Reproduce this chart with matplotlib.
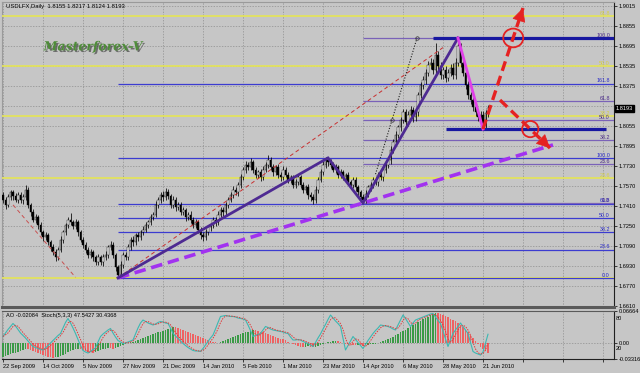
import numpy as np
import pandas as pd
import matplotlib.pyplot as plt
from matplotlib.patches import Ellipse
import matplotlib.patheffects as pe

plt.rcParams['font.family'] = ['Liberation Sans', 'DejaVu Sans']

# USDLFX daily, 22 Sep 2009 .. 23 Jun 2010 (open of a bar = previous close)
open0 = 1.750
closes = [
    1.746, 1.742, 1.748, 1.752, 1.749, 1.746, 1.750, 1.746, 1.748, 1.754,
    1.742, 1.736, 1.730, 1.732, 1.726, 1.720, 1.716, 1.718, 1.712, 1.708,
    1.704, 1.700, 1.706, 1.714, 1.720, 1.726, 1.730, 1.728, 1.725, 1.728,
    1.720, 1.714, 1.710, 1.706, 1.702, 1.704, 1.700, 1.696, 1.700, 1.696,
    1.700, 1.702, 1.708, 1.710, 1.702, 1.692, 1.686, 1.694, 1.702, 1.700,
    1.708, 1.714, 1.712, 1.718, 1.716, 1.720, 1.722, 1.726, 1.728, 1.732,
    1.734, 1.742, 1.746, 1.750, 1.748, 1.752, 1.749, 1.742, 1.746, 1.740,
    1.742, 1.736, 1.738, 1.732, 1.734, 1.730, 1.726, 1.728, 1.722, 1.718,
    1.716, 1.720, 1.724, 1.726, 1.730, 1.728, 1.734, 1.738, 1.736, 1.742,
    1.746, 1.750, 1.754, 1.752, 1.758, 1.764, 1.770, 1.774, 1.772, 1.776,
    1.770, 1.766, 1.768, 1.764, 1.770, 1.774, 1.778, 1.772, 1.768, 1.772,
    1.766, 1.764, 1.770, 1.766, 1.762, 1.764, 1.758, 1.760, 1.764, 1.758,
    1.754, 1.756, 1.750, 1.748, 1.746, 1.754, 1.762, 1.768, 1.774, 1.778,
    1.776, 1.774, 1.770, 1.772, 1.766, 1.768, 1.764, 1.766, 1.760, 1.758,
    1.762, 1.756, 1.752, 1.748, 1.746, 1.751, 1.756, 1.758, 1.762, 1.760,
    1.766, 1.764, 1.770, 1.774, 1.778, 1.786, 1.792, 1.798, 1.804, 1.810,
    1.816, 1.808, 1.814, 1.818, 1.812, 1.816, 1.830, 1.838, 1.842, 1.848,
    1.854, 1.856, 1.850, 1.862, 1.853, 1.846, 1.850, 1.844, 1.848, 1.852,
    1.846, 1.856, 1.869, 1.856, 1.848, 1.838, 1.830, 1.826, 1.820, 1.816,
    1.812, 1.814, 1.806, 1.8155, 1.8193,
]
# wick sizes in pips above / below the candle body
hi_wick = [
    20, 25, 30, 18, 22, 28, 20, 24, 30, 40,
    20, 15, 25, 30, 18, 22, 20, 26, 18, 22,
    25, 30, 20, 28, 22, 18, 25, 56, 20, 24,
    18, 22, 26, 20, 25, 30, 22, 18, 26, 20,
    24, 30, 22, 28, 20, 16, 22, 30, 25, 20,
    26, 22, 30, 18, 24, 20, 28, 22, 18, 25,
    22, 30, 26, 20, 35, 36, 24, 20, 28, 22,
    25, 20, 26, 18, 22, 28, 20, 24, 18, 22,
    20, 26, 22, 18, 25, 20, 28, 22, 24, 20,
    26, 22, 30, 20, 24, 28, 22, 30, 26, 35,
    20, 25, 22, 28, 30, 26, 40, 22, 25, 20,
    24, 22, 28, 20, 25, 22, 18, 26, 30, 20,
    22, 18, 25, 20, 24, 28, 22, 26, 30, 24,
    16, 25, 22, 28, 20, 26, 22, 18, 24, 20,
    25, 20, 22, 18, 24, 28, 22, 26, 20, 25,
    22, 26, 24, 30, 22, 28, 25, 30, 22, 26,
    30, 25, 28, 35, 24, 30, 28, 26, 30, 32,
    35, 40, 28, 96, 30, 35, 28, 32, 26, 30,
    35, 40, 67, 30, 28, 25, 30, 22, 26, 20,
    25, 28, 30, 22, 24,
]
lo_wick = [
    25, 30, 20, 22, 28, 20, 25, 22, 30, 20,
    25, 28, 20, 24, 30, 22, 26, 20, 24, 28,
    22, 30, 25, 20, 24, 22, 28, 20, 25, 22,
    26, 20, 24, 28, 22, 25, 30, 20, 24, 22,
    28, 20, 24, 22, 26, 30, 25, 22, 28, 20,
    24, 22, 26, 20, 28, 22, 24, 20, 26, 22,
    24, 20, 28, 22, 26, 24, 20, 28, 22, 26,
    20, 24, 22, 28, 20, 26, 24, 22, 28, 30,
    32, 24, 20, 26, 22, 28, 24, 20, 26, 22,
    24, 20, 26, 22, 28, 24, 20, 26, 22, 24,
    28, 22, 26, 30, 24, 20, 26, 22, 28, 24,
    22, 28, 24, 20, 26, 22, 28, 24, 20, 26,
    28, 24, 30, 26, 35, 22, 26, 20, 24, 22,
    26, 24, 20, 28, 22, 26, 24, 28, 22, 30,
    24, 28, 26, 30, 25, 28, 24, 30, 26, 22,
    28, 24, 26, 22, 28, 30, 26, 24, 28, 30,
    26, 32, 28, 30, 34, 28, 30, 26, 32, 28,
    30, 28, 32, 30, 35, 30, 28, 32, 30, 28,
    30, 32, 28, 35, 30, 32, 35, 30, 28, 32,
    30, 32, 33, 28, 31,
]
# Awesome Oscillator
ao = [
    -0.028,
    -0.026, -0.024, -0.023, -0.021, -0.020, -0.018, -0.016, -0.014, -0.012,
    -0.013, -0.015, -0.017, -0.019, -0.021, -0.023, -0.025, -0.027, -0.029, -0.030, -0.031,
    -0.030, -0.028, -0.026, -0.024, -0.022, -0.019, -0.017, -0.015, -0.013, -0.012,
    -0.013, -0.015, -0.017, -0.018, -0.019, -0.020, -0.019,
    -0.017, -0.015, -0.013, -0.012, -0.010, -0.011, -0.012, -0.010, -0.008,
    -0.006, -0.004, -0.002, 0.000, 0.002, 0.003, 0.004, 0.006, 0.008, 0.010,
    0.012, 0.014, 0.016, 0.018, 0.020, 0.022, 0.024, 0.026, 0.028, 0.030, 0.032, 0.034,
    0.033, 0.031, 0.029, 0.027, 0.025, 0.023, 0.021, 0.019, 0.017, 0.015, 0.013, 0.011,
    0.009, 0.007, 0.005, 0.003,
    0.002, 0.001, 0.002, 0.004,
    0.006, 0.008, 0.010, 0.012, 0.014, 0.016, 0.018, 0.020, 0.022, 0.024, 0.026, 0.028,
    0.027, 0.026, 0.024, 0.022, 0.020, 0.019, 0.017, 0.015, 0.013, 0.011, 0.009, 0.008, 0.006,
    0.003, 0.000, -0.003, -0.005, -0.007, -0.008, -0.009,
    -0.008, -0.007, -0.008, -0.009, -0.008, -0.006, -0.004, -0.002, 0.000,
    0.002, 0.003, 0.004, 0.005, 0.004, 0.003,
    0.001, -0.001, -0.002, -0.003, -0.004, -0.005, -0.004, -0.005, -0.006, -0.005,
    -0.004, -0.003, -0.002, -0.001, 0.001,
    0.002, 0.004, 0.006, 0.008, 0.010, 0.013, 0.016, 0.019, 0.022, 0.025, 0.028, 0.031,
    0.034, 0.037, 0.040, 0.043, 0.046, 0.049, 0.052, 0.055, 0.058, 0.061, 0.063,
    0.062, 0.060, 0.058, 0.056, 0.054, 0.051, 0.048, 0.045, 0.041, 0.037, 0.033,
    0.028, 0.022, 0.016, 0.010, 0.004, -0.002, -0.008, -0.013, -0.017, -0.02084,
]
# Stochastic(5,3,3) main line
stoch = [
    43, 50, 57, 63, 69, 64, 57, 50, 45, 40, 34, 28, 23, 21, 19, 17, 16, 20, 25, 30,
    35, 40, 45, 49, 60, 71, 79, 70, 60, 49, 37, 25, 15, 12, 10, 13, 17, 20, 32, 43,
    48, 52, 56, 59, 50, 42, 35, 32, 29, 30, 32, 34, 36, 48, 60, 70, 76, 73, 70, 68,
    66, 68, 71, 73, 72, 70, 69, 60, 49, 44, 39, 34, 29, 25, 21, 18, 15, 14, 14, 13,
    19, 26, 33, 40, 46, 58, 71, 83, 84, 85, 84, 83, 83, 82, 80, 79, 78, 76, 66, 55,
    43, 45, 47, 49, 56, 63, 61, 58, 56, 55, 54, 53, 52, 50, 49, 42, 36, 36, 37, 36,
    33, 31, 29, 26, 23, 31, 40, 48, 58, 67, 77, 86, 80, 74, 69, 63, 40, 16, 25, 34,
    43, 37, 31, 25, 19, 27, 35, 42, 49, 55, 60, 66, 65, 64, 63, 61, 58, 56, 66, 76,
    86, 79, 71, 63, 70, 76, 78, 80, 82, 84, 86, 88, 89, 82, 75, 69, 54, 38, 23, 36,
    49, 56, 63, 70, 63, 56, 49, 31, 13, 10, 8, 6, 12, 30, 47.5427,
]
stoch_signal_last = 30.4368

date_labels = ['22 Sep 2009', '14 Oct 2009', '5 Nov 2009', '27 Nov 2009', '21 Dec 2009',
               '14 Jan 2010', '5 Feb 2010', '1 Mar 2010', '23 Mar 2010', '14 Apr 2010',
               '6 May 2010', '28 May 2010', '21 Jun 2010']
price_ticks = [1.9015, 1.8855, 1.8695, 1.8535, 1.8375, 1.8215, 1.8055, 1.7895,
               1.7730, 1.7570, 1.7410, 1.7250, 1.7090, 1.6930, 1.6770, 1.6610]

closes = np.array(closes)
opens = np.r_[open0, closes[:-1]]
highs = np.maximum(opens, closes) + np.array(hi_wick) / 1e4
lows = np.minimum(opens, closes) - np.array(lo_wick) / 1e4
ao = np.array(ao)
stoch = np.array(stoch, dtype=float)
signal = pd.Series(stoch).rolling(3, min_periods=1).mean().values
idx = np.arange(len(closes))

# fibonacci tools: (start bar, 0% price, 100% price, levels, line colour, label colour, width)
fibs = [
    (-1, 1.6835, 2.0228, [0, 23.6, 38.2, 50.0, 61.8], '#e2e25e', '#d6d040', 1.3),
    (46, lows[46], highs[130], [0, 23.6, 38.2, 50.0, 61.8, 100.0, 161.8], '#3c3cd0', '#2828c8', 0.9),
    (144, lows[144], highs[182], [0, 23.6, 38.2, 50.0, 61.8, 100.0], '#7a62b8', '#4a2a8a', 0.9),
]
zig_bars = [46, 130, 144, 182]
zig_prices = [lows[46], highs[130], lows[144], highs[182]]
red_line = ([46, 176], [lows[46], 1.868])
left_red = ([4, 29], [1.742, 1.684])
dotted = ([149, 155.6, 165.6], [1.7666, 1.810, 1.8756])
arrow_up = ([192, 208], [lows[192], 1.8997])
arrow_down = ([198.8, 218.8], [1.826, 1.7875])
rings = [(204.1, highs[182], 8.0, 0.0150), (210.9, lows[192], 6.5, 0.0130)]

bg = '#c6c6c6'
grid_c = '#8e8e8e'
red = '#e52222'
fs = 4.1

fig = plt.figure(figsize=(6.4, 3.73), dpi=100, facecolor=bg)
ax = fig.add_axes([2 / 640, 1 - 307 / 373, 612 / 640, 305 / 373], facecolor=bg)
ax2 = fig.add_axes([2 / 640, 1 - 359 / 373, 612 / 640, 48 / 373], facecolor=bg, sharex=ax)
ax3 = ax2.twinx()

xticks = np.arange(0, 245, 16)
ax.set_xlim(-0.4, 244.4)
ax.set_ylim(1.6602, 1.9045)
ax.set_xticks(xticks)
ax.set_yticks(price_ticks)
# the current-price box covers the tick label next to it
ax.set_yticklabels(['' if abs(p - closes[-1]) < 0.004 else '%.4f' % p for p in price_ticks],
                   fontsize=fs)
ax.yaxis.tick_right()
ax.tick_params(axis='y', length=2, width=0.5, pad=1.5)
ax.tick_params(axis='x', length=0, labelbottom=False)
ax.grid(True, color=grid_c, ls=(0, (2, 2)), lw=0.5)
ax.set_axisbelow(True)
for s in ['left', 'top']:
    ax.spines[s].set_color('#9a9a9a')
ax.spines['right'].set_color('#202020')
ax.spines['bottom'].set_color('#5a5a5a')
ax.spines['bottom'].set_linewidth(2.2)

# fib lines
for start, p0, p1, levels, lc, tc, lw in fibs:
    for r in levels:
        p = p0 + (p1 - p0) * r / 100
        ax.hlines(p, max(start, -0.4), 244.4, color=lc, lw=lw, zorder=3)
        if not (start < 0 and r == 0):
            ax.text(242.8, p + 0.0003, '%.1f' % r, ha='right', va='bottom',
                    fontsize=3.9, color=tc, zorder=6)

# candles
up = closes >= opens
ax.vlines(idx, lows, highs, color='black', lw=0.55, zorder=4)
body_h = np.maximum(np.abs(closes - opens), 0.0004)
ax.bar(idx, body_h, bottom=np.minimum(opens, closes), width=0.6,
       color=np.where(up, '#f2f2f2', '#000000'), edgecolor='black', lw=0.3, zorder=4)

# levels from the peak and the last low
ax.hlines(highs[182], 172, 244.4, color='#1818a0', lw=2.3, zorder=5)
ax.hlines(lows[192], 177, 241.2, color='#1818a0', lw=2.3, zorder=5)

# trend lines
ax.plot(red_line[0], red_line[1], color='#c83030', lw=0.7, ls=(0, (4, 3)), zorder=5)
ax.plot(left_red[0], left_red[1], color='#c85050', lw=0.7, ls=(0, (4, 3)), zorder=5)
ax.plot(dotted[0], dotted[1], color='#202020', lw=0.8, ls=(0, (1, 1.5)), zorder=5)
ax.plot(dotted[0][1:], dotted[1][1:], 'o', ms=2.5, mfc='none', mec='#303030', mew=0.5, zorder=6)
slope = (lows[144] - lows[46]) / (144 - 46)
ax.plot([46, 220], [lows[46], lows[46] + slope * (220 - 46)], color='#a232f0',
        lw=2.6, ls=(0, (3.2, 1.6)), zorder=6, solid_capstyle='butt')
ax.plot(zig_bars, zig_prices, color='#4e2a92', lw=2.0, zorder=6, solid_joinstyle='miter')
ax.plot([182, 192], [highs[182], lows[192]], color='#e040e8', lw=2.0, zorder=6)

for xs, ys in [arrow_up, arrow_down]:
    ax.plot(xs, ys, color=red, lw=2.4, ls=(0, (3, 1.6)), zorder=7)
    back = (xs[1] - (xs[1] - xs[0]) * 0.08, ys[1] - (ys[1] - ys[0]) * 0.08)
    ax.annotate('', xy=(xs[1], ys[1]), xytext=back, zorder=7,
                arrowprops=dict(arrowstyle='-|>', mutation_scale=22, color=red,
                                lw=0.5, shrinkA=0, shrinkB=0))
for cx, cy, w, h in rings:
    ax.add_patch(Ellipse((cx, cy), w, h, fill=False, ec=red, lw=1.3, zorder=7))

# current price box
ax.annotate('%.4f' % closes[-1], xy=(1.003, closes[-1]), xycoords=('axes fraction', 'data'),
            ha='left', va='center', fontsize=fs, color='white', annotation_clip=False,
            bbox=dict(boxstyle='square,pad=0.2', fc='black', ec='black'))

ax.text(0.006, 0.992, 'USDLFX,Daily  %.4f %.4f %.4f %.4f' % (opens[-1], highs[-1], lows[-1], closes[-1]),
        transform=ax.transAxes, ha='left', va='top', fontsize=4.2, color='black')
ax.text(0.068, 0.853, 'Masterforex-V', transform=ax.transAxes, ha='left', va='center',
        fontsize=9, family='DejaVu Serif', style='italic', weight='bold', color='#4f8c3a',
        path_effects=[pe.withSimplePatchShadow(offset=(1.2, -1.2), shadow_rgbFace='#303030', alpha=0.6)])

# AO + stochastic panel
ao_c = np.where(np.r_[True, np.diff(ao) >= 0], '#3a9a46', '#ee6262')
ax2.bar(idx, ao, width=0.6, color=ao_c, zorder=3)
ax2.set_ylim(-0.03316, 0.06664)
ax2.axhline(0, color=grid_c, ls=(0, (2, 2)), lw=0.5, zorder=1)
ax2.set_yticks([0.06664, 0.0, -0.03316])
ax2.set_yticklabels(['0.06664', '0.00', '-0.03316'], fontsize=fs)
ax2.yaxis.tick_right()
ax2.tick_params(axis='y', length=2, width=0.5, pad=1.5)
ax2.set_xticks(xticks)
ax2.set_xticklabels(date_labels + [''] * (len(xticks) - len(date_labels)), fontsize=fs, ha='left')
ax2.tick_params(axis='x', length=2, width=0.5, pad=1.5)
ax2.grid(True, axis='x', color=grid_c, ls=(0, (2, 2)), lw=0.5)
ax2.set_axisbelow(True)
ax2.spines['top'].set_color('#5a5a5a')
ax2.spines['left'].set_color('#9a9a9a')
ax2.spines['right'].set_color('#202020')
ax2.spines['bottom'].set_color('#202020')

ax3.set_ylim(-2, 94)
ax3.plot(idx, stoch, color='#3cb8b2', lw=0.8, zorder=4)
ax3.plot(idx, signal, color='#e03a3a', lw=0.7, ls=(0, (1.5, 1.2)), zorder=4)
ax3.set_yticks([80, 20])
ax3.set_yticklabels(['80', '20'], fontsize=fs)
ax3.tick_params(axis='y', length=0, pad=1.5)
for s in ax3.spines.values():
    s.set_visible(False)
ax2.text(0.006, 0.96, 'AO %.5f  Stoch(5,3,3) %.4f %.4f' % (ao[-1], stoch[-1], stoch_signal_last),
         transform=ax2.transAxes, ha='left', va='top', fontsize=fs, color='black', zorder=8)

fig.savefig('out.png', dpi=100, facecolor=bg)
